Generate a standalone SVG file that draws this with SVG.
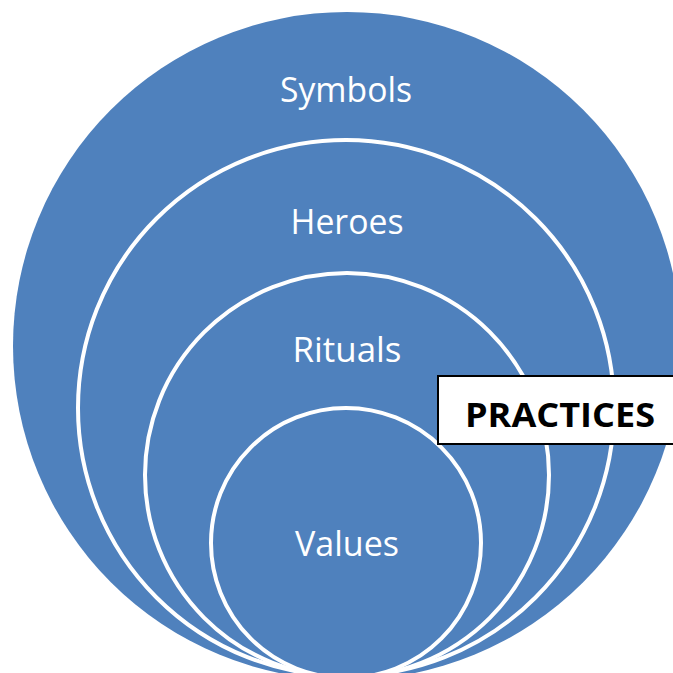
<svg xmlns="http://www.w3.org/2000/svg" width="673" height="673" viewBox="0 0 673 673">
<style>
.ring{fill:#4F81BD;stroke:#FFFFFF;stroke-width:4}
.lbl{font-family:"Open Sans","Liberation Sans",sans-serif;font-size:34px;fill:#FFFFFF;text-anchor:middle}
.box{fill:#FFFFFF;stroke:#000000;stroke-width:2}
.btxt{font-family:"Open Sans","Liberation Sans",sans-serif;font-weight:bold;font-size:34px;fill:#000000}
</style>
<rect width="673" height="673" fill="#FFFFFF"/>
<g id="symbols">
<circle cx="347" cy="346" r="334" fill="#4F81BD"/>
<text class="lbl" x="346" y="102" textLength="132" lengthAdjust="spacingAndGlyphs">Symbols</text>
</g>
<g id="heroes">
<circle class="ring" cx="346" cy="408" r="268"/>
<text class="lbl" x="347" y="234" textLength="113" lengthAdjust="spacingAndGlyphs">Heroes</text>
</g>
<g id="rituals">
<circle class="ring" cx="347" cy="475" r="202"/>
<text class="lbl" x="347" y="362" textLength="109" lengthAdjust="spacingAndGlyphs">Rituals</text>
</g>
<g id="values">
<circle class="ring" cx="346" cy="543" r="135"/>
<text class="lbl" x="347" y="556" textLength="104" lengthAdjust="spacingAndGlyphs">Values</text>
</g>
<g id="practices">
<rect class="box" x="438" y="376" width="240" height="68"/>
<text class="btxt" x="465" y="427" textLength="190" lengthAdjust="spacingAndGlyphs">PRACTICES</text>
</g>
<g id="connectors"/>
</svg>
